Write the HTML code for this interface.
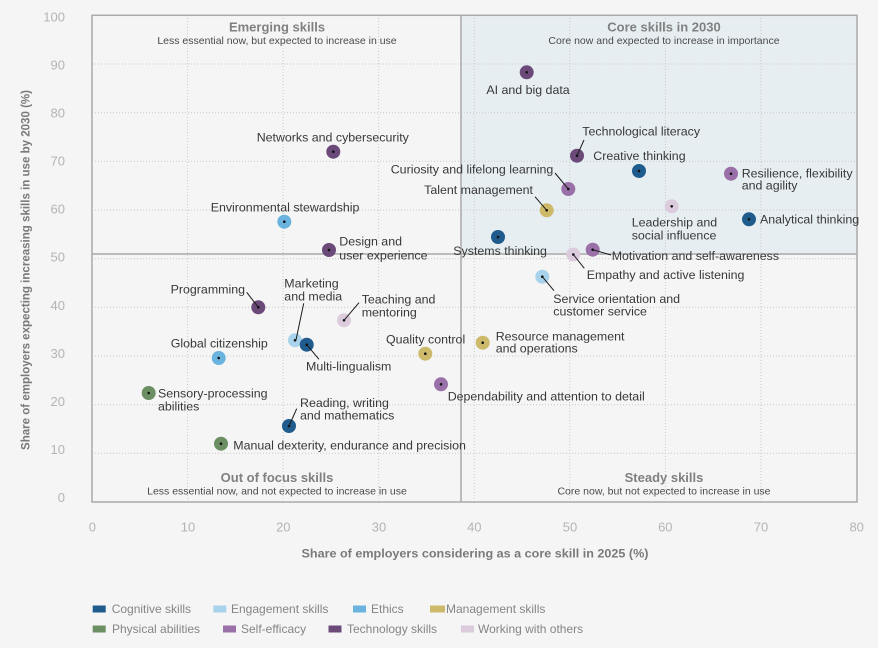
<!DOCTYPE html>
<html><head><meta charset="utf-8"><style>
html,body{margin:0;padding:0;background:#f5f5f5;}
svg{display:block;font-family:"Liberation Sans",Arial,sans-serif;}
.lb{font-size:12.4px;fill:#383838;}
.tk{font-size:13px;fill:#b4b4b4;}
.qt{font-size:13px;font-weight:bold;fill:#808080;}
.qs{font-size:10.5px;fill:#4a4a4a;}
.lg{font-size:12px;fill:#858585;}
.ax{font-size:12px;font-weight:bold;fill:#7a7a7a;}
</style></head><body>
<svg width="878" height="648" viewBox="0 0 878 648" xmlns="http://www.w3.org/2000/svg">
<rect x="0" y="0" width="878" height="648" fill="#f5f5f5"/>
<rect x="461" y="15" width="396" height="239" fill="#e7eef2"/>
<g stroke="#c9c9c9" stroke-width="1" stroke-dasharray="1,2">
<line x1="187.6" y1="15" x2="187.6" y2="502"/>
<line x1="283.1" y1="15" x2="283.1" y2="502"/>
<line x1="378.7" y1="15" x2="378.7" y2="502"/>
<line x1="474.3" y1="15" x2="474.3" y2="502"/>
<line x1="569.8" y1="15" x2="569.8" y2="502"/>
<line x1="665.4" y1="15" x2="665.4" y2="502"/>
<line x1="760.9" y1="15" x2="760.9" y2="502"/>
<line x1="92" y1="453.3" x2="857" y2="453.3"/>
<line x1="92" y1="404.7" x2="857" y2="404.7"/>
<line x1="92" y1="356" x2="857" y2="356"/>
<line x1="92" y1="307.3" x2="857" y2="307.3"/>
<line x1="92" y1="258.7" x2="857" y2="258.7"/>
<line x1="92" y1="210" x2="857" y2="210"/>
<line x1="92" y1="161.3" x2="857" y2="161.3"/>
<line x1="92" y1="112.7" x2="857" y2="112.7"/>
<line x1="92" y1="64" x2="857" y2="64"/>
</g>
<g stroke="#aaaaaa" stroke-width="1.5" fill="none">
<rect x="92" y="15.3" width="765" height="486.7"/>
<line x1="461" y1="15.3" x2="461" y2="502"/>
<line x1="92" y1="254" x2="857" y2="254"/>
</g>
<!-- quadrant titles -->
<text class="qt" x="277" y="31.5" text-anchor="middle">Emerging skills</text>
<text class="qs" x="277" y="44" text-anchor="middle">Less essential now, but expected to increase in use</text>
<text class="qt" x="664" y="31.5" text-anchor="middle">Core skills in 2030</text>
<text class="qs" x="664" y="44" text-anchor="middle">Core now and expected to increase in importance</text>
<text class="qt" x="277" y="482" text-anchor="middle">Out of focus skills</text>
<text class="qs" x="277" y="494.5" text-anchor="middle">Less essential now, and not expected to increase in use</text>
<text class="qt" x="664" y="482" text-anchor="middle">Steady skills</text>
<text class="qs" x="664" y="494.5" text-anchor="middle">Core now, but not expected to increase in use</text>
<!-- y ticks -->
<g class="tk" text-anchor="end">
<text x="65" y="21.4">100</text>
<text x="65" y="69.5">90</text>
<text x="65" y="117.5">80</text>
<text x="65" y="165.6">70</text>
<text x="65" y="213.7">60</text>
<text x="65" y="261.7">50</text>
<text x="65" y="309.8">40</text>
<text x="65" y="357.8">30</text>
<text x="65" y="405.9">20</text>
<text x="65" y="454">10</text>
<text x="65" y="502">0</text>
</g>
<g class="tk" text-anchor="middle">
<text x="92.4" y="531.5">0</text>
<text x="188" y="531.5">10</text>
<text x="283.3" y="531.5">20</text>
<text x="379" y="531.5">30</text>
<text x="474.3" y="531.5">40</text>
<text x="570" y="531.5">50</text>
<text x="665.3" y="531.5">60</text>
<text x="761" y="531.5">70</text>
<text x="856.7" y="531.5">80</text>
</g>
<text class="ax" x="475" y="557.5" text-anchor="middle" textLength="347" lengthAdjust="spacingAndGlyphs">Share of employers considering as a core skill in 2025 (%)</text>
<text class="ax" transform="translate(29.5,270) rotate(-90)" x="0" y="0" text-anchor="middle" textLength="360" lengthAdjust="spacingAndGlyphs">Share of employers expecting increasing skills in use by 2030 (%)</text>
<!-- dots -->
<g>
<circle cx="295" cy="340.3" r="7" fill="#a8d3ea"/>
<circle cx="526.7" cy="72.3" r="7" fill="#6b4a7a"/>
<circle cx="333.3" cy="151.7" r="7" fill="#6b4a7a"/>
<circle cx="577" cy="155.7" r="7" fill="#6b4a7a"/>
<circle cx="639" cy="171" r="7" fill="#1f5b8c"/>
<circle cx="568.3" cy="189" r="7" fill="#9a70a8"/>
<circle cx="546.7" cy="210.3" r="7" fill="#cdb96a"/>
<circle cx="731" cy="173.7" r="7" fill="#9a70a8"/>
<circle cx="671.7" cy="206.3" r="7" fill="#dccbdc"/>
<circle cx="749" cy="219.3" r="7" fill="#1f5b8c"/>
<circle cx="284.3" cy="221.7" r="7" fill="#6ab3de"/>
<circle cx="329" cy="250" r="7" fill="#6b4a7a"/>
<circle cx="498" cy="237" r="7" fill="#1f5b8c"/>
<circle cx="592.7" cy="249.7" r="7" fill="#9a70a8"/>
<circle cx="573.3" cy="254.5" r="7" fill="#dccbdc"/>
<circle cx="542.3" cy="276.7" r="7" fill="#a8d3ea"/>
<circle cx="258.3" cy="307.3" r="7" fill="#6b4a7a"/>
<circle cx="306.7" cy="344.7" r="7" fill="#1f5b8c"/>
<circle cx="344" cy="320.3" r="7" fill="#dccbdc"/>
<circle cx="425.3" cy="353.7" r="7" fill="#cdb96a"/>
<circle cx="482.7" cy="342.7" r="7" fill="#cdb96a"/>
<circle cx="218.7" cy="358" r="7" fill="#6ab3de"/>
<circle cx="148.7" cy="393" r="7" fill="#6b8f63"/>
<circle cx="441" cy="384.3" r="7" fill="#9a70a8"/>
<circle cx="289" cy="426" r="7" fill="#1f5b8c"/>
<circle cx="221" cy="443.7" r="7" fill="#6b8f63"/>
</g>
<g fill="#111">
<circle cx="295" cy="340.3" r="1.3"/>
<circle cx="526.7" cy="72.3" r="1.3"/>
<circle cx="333.3" cy="151.7" r="1.3"/>
<circle cx="577" cy="155.7" r="1.3"/>
<circle cx="639" cy="171" r="1.3"/>
<circle cx="568.3" cy="189" r="1.3"/>
<circle cx="546.7" cy="210.3" r="1.3"/>
<circle cx="731" cy="173.7" r="1.3"/>
<circle cx="671.7" cy="206.3" r="1.3"/>
<circle cx="749" cy="219.3" r="1.3"/>
<circle cx="284.3" cy="221.7" r="1.3"/>
<circle cx="329" cy="250" r="1.3"/>
<circle cx="498" cy="237" r="1.3"/>
<circle cx="592.7" cy="249.7" r="1.3"/>
<circle cx="573.3" cy="254.5" r="1.3"/>
<circle cx="542.3" cy="276.7" r="1.3"/>
<circle cx="258.3" cy="307.3" r="1.3"/>
<circle cx="306.7" cy="344.7" r="1.3"/>
<circle cx="344" cy="320.3" r="1.3"/>
<circle cx="425.3" cy="353.7" r="1.3"/>
<circle cx="482.7" cy="342.7" r="1.3"/>
<circle cx="218.7" cy="358" r="1.3"/>
<circle cx="148.7" cy="393" r="1.3"/>
<circle cx="441" cy="384.3" r="1.3"/>
<circle cx="289" cy="426" r="1.3"/>
<circle cx="221" cy="443.7" r="1.3"/>
</g>
<!-- leader lines -->
<g stroke="#1a1a1a" stroke-width="1">
<line x1="577" y1="155.7" x2="584" y2="140"/>
<line x1="555" y1="173" x2="568.3" y2="189"/>
<line x1="535" y1="196.7" x2="546.7" y2="210.3"/>
<line x1="592.7" y1="249.7" x2="611" y2="255"/>
<line x1="573.3" y1="254.5" x2="584.3" y2="268.3"/>
<line x1="542.3" y1="276.7" x2="554" y2="290.7"/>
<line x1="246.7" y1="292.3" x2="258.3" y2="307.3"/>
<line x1="303.7" y1="303.3" x2="296" y2="340"/>
<line x1="306.7" y1="344.7" x2="319" y2="359.3"/>
<line x1="344" y1="320.3" x2="359" y2="302.7"/>
<line x1="289" y1="426" x2="296.7" y2="408.7"/>
</g>
<!-- labels -->
<g class="lb">
<text x="528" y="94" text-anchor="middle">AI and big data</text>
<text x="256.7" y="141.7">Networks and cybersecurity</text>
<text x="582.3" y="135.7">Technological literacy</text>
<text x="593.3" y="160">Creative thinking</text>
<text x="553.3" y="173.3" text-anchor="end">Curiosity and lifelong learning</text>
<text x="533" y="194" text-anchor="end">Talent management</text>
<text x="741.7" y="177.7">Resilience, flexibility</text>
<text x="741.7" y="189.7">and agility</text>
<text x="631.7" y="226.3">Leadership and</text>
<text x="631.7" y="239.7">social influence</text>
<text x="760" y="223.3">Analytical thinking</text>
<text x="210.7" y="211.7">Environmental stewardship</text>
<text x="339.3" y="245.3">Design and</text>
<text x="339.3" y="259.3">user experience</text>
<text x="453.3" y="255">Systems thinking</text>
<text x="611.7" y="260">Motivation and self-awareness</text>
<text x="586.7" y="279">Empathy and active listening</text>
<text x="553.3" y="303">Service orientation and</text>
<text x="553.3" y="315.7">customer service</text>
<text x="245" y="293.7" text-anchor="end">Programming</text>
<text x="284.3" y="287.7">Marketing</text>
<text x="284.3" y="300.3">and media</text>
<text x="306" y="370.7">Multi-lingualism</text>
<text x="361.7" y="303.7">Teaching and</text>
<text x="361.7" y="316.7">mentoring</text>
<text x="386" y="343.3">Quality control</text>
<text x="495.7" y="340.7">Resource management</text>
<text x="495.7" y="352.7">and operations</text>
<text x="170.7" y="347.7">Global citizenship</text>
<text x="158" y="397.7">Sensory-processing</text>
<text x="158" y="410.3">abilities</text>
<text x="447.7" y="400.7">Dependability and attention to detail</text>
<text x="300" y="407">Reading, writing</text>
<text x="300" y="419.7">and mathematics</text>
<text x="233.3" y="449.7">Manual dexterity, endurance and precision</text>
</g>
<!-- legend -->
<g>
<rect x="92.7" y="605.5" width="13" height="7" fill="#1f5b8c"/>
<rect x="213.3" y="605.5" width="13" height="7" fill="#a8d3ea"/>
<rect x="353" y="605.5" width="13" height="7" fill="#6ab3de"/>
<rect x="430" y="605.5" width="15" height="7" fill="#cdb96a"/>
<rect x="92.7" y="625.5" width="13" height="7" fill="#6b8f63"/>
<rect x="223" y="625.5" width="13" height="7" fill="#9a70a8"/>
<rect x="328.5" y="625.5" width="13" height="7" fill="#6b4a7a"/>
<rect x="461" y="625.5" width="13" height="7" fill="#dccbdc"/>
</g>
<g class="lg">
<text x="111.7" y="613.2">Cognitive skills</text>
<text x="231" y="613.2">Engagement skills</text>
<text x="371" y="613.2">Ethics</text>
<text x="446" y="613.2">Management skills</text>
<text x="112" y="633.2">Physical abilities</text>
<text x="241" y="633.2">Self-efficacy</text>
<text x="347" y="633.2">Technology skills</text>
<text x="478" y="633.2">Working with others</text>
</g>
</svg>
</body></html>
